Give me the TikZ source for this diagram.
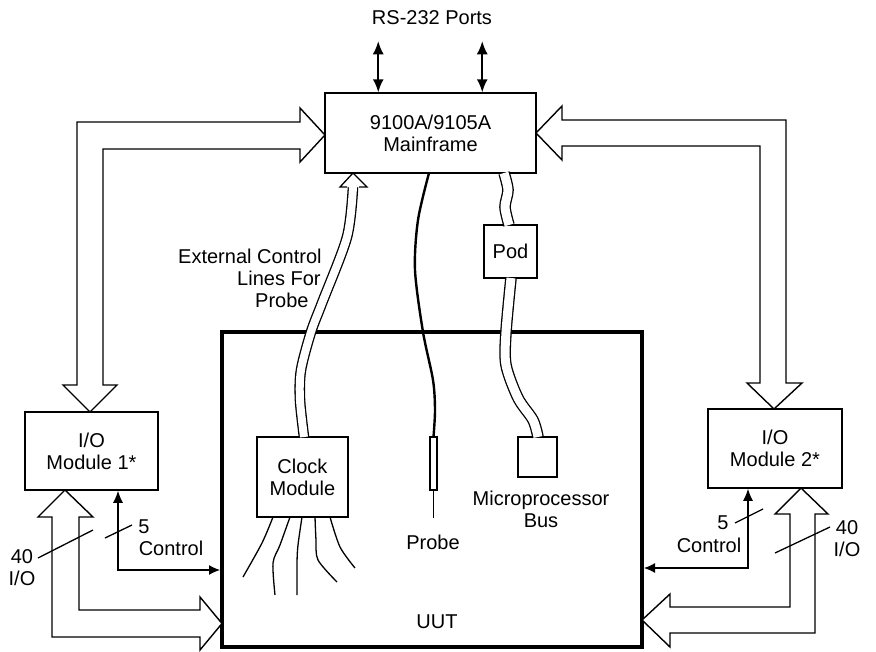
\documentclass[tikz,border=0pt]{standalone}
\usepackage{fontspec}
\setmainfont{Liberation Sans}
\usetikzlibrary{arrows.meta,calc}

\begin{document}
\begin{tikzpicture}[x=1pt,y=-1pt,font=\fontsize{20}{22}\selectfont]
        \tikzstyle{box}=[draw, line width=1.5pt, inner sep=0pt, align=center]
        \tikzstyle{lbl}=[inner sep=0pt, align=center]
        \tikzstyle{bus}=[draw, line width=1.4pt, fill=white, line join=miter]
        \tikzstyle{port}=[line width=1.8pt, {Latex[length=13pt,width=11pt]}-{Latex[length=13pt,width=11pt]}]
        \tikzstyle{ctrl}=[line width=1.2pt, {Latex[length=12pt,width=10pt]}-{Latex[length=11pt,width=10pt]}]
        \tikzstyle{cable}=[double, line width=1.3pt, double distance=9pt]
        \tikzstyle{lead}=[line width=1.3pt]
        \useasboundingbox (0,0) rectangle (876,651);
        % blocks
        \node[box, minimum width=211pt, minimum height=80pt] (main) at (430.5,133) {9100A/9105A\\Mainframe};
        \node[box, minimum width=133pt, minimum height=78pt] (mod1) at (91.5,451) {I/O\\Module 1*};
        \node[box, minimum width=134pt, minimum height=79pt] (mod2) at (775,448.5) {I/O\\Module 2*};
        \node[draw, line width=4pt, minimum width=420pt, minimum height=315pt] (uut) at (432,489.5) {};
        \node[box, minimum width=91pt, minimum height=80pt] (clock) at (302.5,477) {Clock\\Module};
        \node[box, minimum width=53pt, minimum height=53pt] (pod) at (510.5,251.5) {Pod};
        \node[box, minimum width=39pt, minimum height=40pt] (mpu) at (537.5,457) {};
        \node[draw, line width=1.2pt, inner sep=0pt, minimum width=7pt, minimum height=53pt] (probe) at (433.5,463.5) {};
        % labels
        \node[lbl] (uutlbl) at (437,622) {UUT};
        \node[lbl] (mpulbl) at (541,509) {Microprocessor\\Bus};
        \node[lbl] (probelbl) at (433,542) {Probe};
        \node[lbl] (ports) at (432,18) {RS-232 Ports};
        \node[lbl, anchor=west, align=left] (extlbl) at (178,278) {External Control\\\hspace*{59pt}Lines For\\\hspace*{77pt}Probe};
        \node[lbl] (five1) at (144,527) {5};
        \node[lbl] (ctl1) at (171,548) {Control};
        \node[lbl] (forty1) at (22,568) {40\\I/O};
        \node[lbl] (five2) at (723,523) {5};
        \node[lbl] (ctl2) at (709,545) {Control};
        \node[lbl] (forty2) at (847,539) {40\\I/O};
        % RS-232 ports
        \draw[port] ($(main.north west)+(54,0)$) -- ++(0,-51);
        \draw[port] ($(main.north west)+(158,0)$) -- ++(0,-51);
        % data buses
        \draw[bus] (90,412) -- (117,385) -- (103,385) -- (103,149) -- (300,149) -- (300,162) -- (325,135)
          -- (300,108) -- (300,122) -- (77,122) -- (77,385) -- (63,385) -- cycle;
        \draw[bus] (536,133) -- (562,106) -- (562,120) -- (786,120) -- (786,383) -- (802,383) -- (774,409)
          -- (747,383) -- (760,383) -- (760,146) -- (562,146) -- (562,160) -- cycle;
        \draw[bus] (65,490) -- (93,517) -- (79,517) -- (79,610) -- (200,610) -- (200,597) -- (222,623.5)
          -- (200,650) -- (200,637) -- (52,637) -- (52,517) -- (38,517) -- cycle;
        \draw[bus] (801,488) -- (828,514) -- (815,514) -- (815,633) -- (670,633) -- (670,647) -- (642,620)
          -- (670,594) -- (670,607) -- (790,607) -- (790,514) -- (775,514) -- cycle;
        % control lines
        \coordinate (c1) at (118,570);
        \coordinate (c2) at (748,568);
        \draw[ctrl] (mod1.south -| c1) -- (c1) -- (c1 -| uut.west);
        \draw[ctrl] (mod2.south -| c2) -- (c2) -- (c2 -| uut.east);
        \draw[lead] (105,538) -- (132,525);
        \draw[lead] (38,558) -- (93,530);
        \draw[lead] (735,523) -- (763,509);
        \draw[lead] (775,553) -- (830,527);
        % external control lines
        \draw[cable, double distance=8pt] plot[smooth] coordinates {(304,437) (300,400) (301,370) (311,332) (322,303) (347,237) (353,187)};
        \draw[lead, fill=white] (347,187) -- (340,187) -- (353,173) -- (367,187) -- (359,187);
        % probe
        \draw[line width=2.4pt] plot[smooth] coordinates {(429,173) (418,220) (415,270) (423,332) (433,380) (435,410) (433.5,437)};
        \draw[lead] (probe.south) -- ++(0,27);
        % pod cables
        \draw[cable] plot[smooth] coordinates {(504,173) (508,190) (505,207) (509,225)};
        \draw[cable] plot[smooth] coordinates {(511,278) (506,332) (506,365) (518,398) (533,420) (538,437)};
        % clock leads
        \draw[lead] plot[smooth] coordinates {(273,517) (262,543) (243,577)};
        \draw[lead] plot[smooth] coordinates {(290,517) (280,545) (273,563) (275,595)};
        \draw[lead] plot[smooth] coordinates {(302,517) (298,545) (297,563) (297,595)};
        \draw[lead] plot[smooth] coordinates {(315,517) (316,540) (318,560) (337,582)};
        \draw[lead] plot[smooth] coordinates {(330,517) (340,547) (355,568)};
\end{tikzpicture}
\end{document}
